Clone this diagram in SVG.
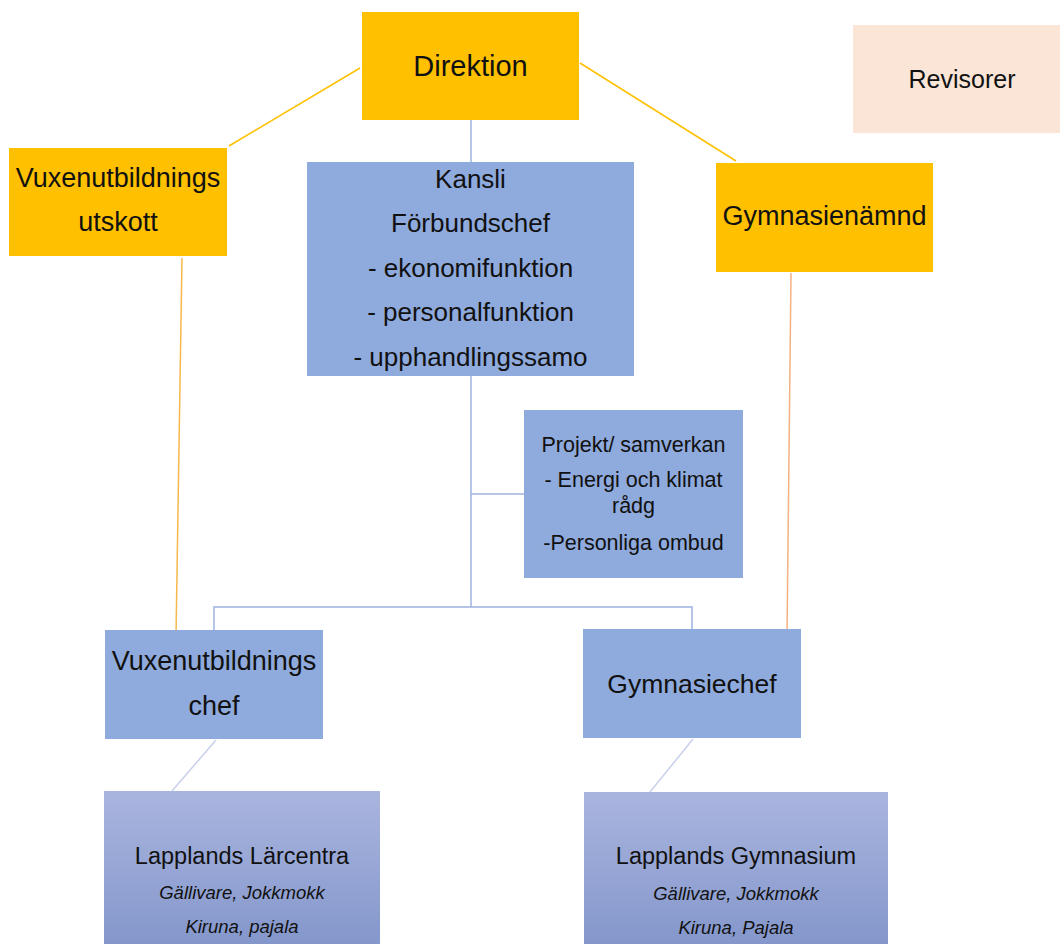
<svg xmlns="http://www.w3.org/2000/svg" width="1060" height="944" viewBox="0 0 1060 944">
<defs>
<linearGradient id="lg" x1="0" y1="0" x2="0" y2="1">
<stop offset="0" stop-color="#AAB5DF"/>
<stop offset="1" stop-color="#8497CB"/>
</linearGradient>
<style>
text{font-family:"Liberation Sans",Arial,sans-serif;fill:#111;text-anchor:middle}
.y{fill:#FFC000}
.b{fill:#8FAADC}
.it{font-style:italic}
.c line, .c polyline{fill:none;stroke-width:1.5}
</style>
</defs>
<rect width="1060" height="944" fill="#fff"/>
<g class="c" id="connectors">
<line x1="360" y1="68" x2="229" y2="146" stroke="#FFC000"/>
<line x1="580" y1="63" x2="736" y2="161" stroke="#FFC000"/>
<line x1="471" y1="120" x2="471" y2="162" stroke="#9DB3E0" stroke-width="2"/>
<line x1="182" y1="258" x2="176" y2="636" stroke="#F5B84A"/>
<line x1="791" y1="273" x2="787" y2="636" stroke="#F4B183"/>
<line x1="471" y1="376" x2="471" y2="607" stroke="#9DB3E0" stroke-width="2"/>
<line x1="471" y1="494" x2="524" y2="494" stroke="#9DB3E0" stroke-width="2"/>
<polyline points="214,630 214,607 692,607 692,630" stroke="#9DB3E0" stroke-width="2"/>
<line x1="216" y1="740" x2="172" y2="791" stroke="#C9D0EC"/>
<line x1="693" y1="739" x2="650" y2="792" stroke="#C9D0EC"/>
</g>
<g id="direktion">
<rect class="y" x="362" y="12" width="217" height="108"/>
<text x="470.5" y="76" font-size="29">Direktion</text>
</g>
<g id="revisorer">
<rect x="853" y="25" width="207" height="108" fill="#FBE5D6"/>
<text x="962" y="88" font-size="25">Revisorer</text>
</g>
<g id="vux-utskott">
<rect class="y" x="9" y="148" width="218" height="108"/>
<text x="118" y="187" font-size="27">Vuxenutbildnings</text>
<text x="118" y="231" font-size="27">utskott</text>
</g>
<g id="kansli">
<rect class="b" x="307" y="162" width="327" height="214"/>
<text x="470.5" y="188" font-size="26">Kansli</text>
<text x="470.5" y="232" font-size="26">Förbundschef</text>
<text x="470.5" y="277" font-size="26">- ekonomifunktion</text>
<text x="470.5" y="321" font-size="26">- personalfunktion</text>
<text x="470.5" y="366" font-size="26">- upphandlingssamo</text>
</g>
<g id="gymnasienamnd">
<rect class="y" x="716" y="163" width="217" height="109"/>
<text x="824.5" y="225" font-size="27">Gymnasienämnd</text>
</g>
<g id="projekt">
<rect class="b" x="524" y="410" width="219" height="168"/>
<text x="633.5" y="452" font-size="21.5">Projekt/ samverkan</text>
<text x="633.5" y="487" font-size="21.5">- Energi och klimat</text>
<text x="633.5" y="513" font-size="21.5">rådg</text>
<text x="633.5" y="550" font-size="21.5">-Personliga ombud</text>
</g>
<g id="vux-chef">
<rect class="b" x="105" y="630" width="218" height="109"/>
<text x="214" y="670" font-size="27">Vuxenutbildnings</text>
<text x="214" y="715" font-size="27">chef</text>
</g>
<g id="gymnasiechef">
<rect class="b" x="583" y="629" width="218" height="109"/>
<text x="692" y="693" font-size="26.5">Gymnasiechef</text>
</g>
<g id="larcentra">
<rect x="104" y="791" width="276" height="153" fill="url(#lg)"/>
<text x="242" y="864" font-size="23.5">Lapplands Lärcentra</text>
<text x="242" y="899" font-size="18.5" class="it">Gällivare, Jokkmokk</text>
<text x="242" y="933" font-size="18.5" class="it">Kiruna, pajala</text>
</g>
<g id="gymnasium">
<rect x="584" y="792" width="304" height="152" fill="url(#lg)"/>
<text x="736" y="864" font-size="23.5">Lapplands Gymnasium</text>
<text x="736" y="900" font-size="18.5" class="it">Gällivare, Jokkmokk</text>
<text x="736" y="934" font-size="18.5" class="it">Kiruna, Pajala</text>
</g>
</svg>
